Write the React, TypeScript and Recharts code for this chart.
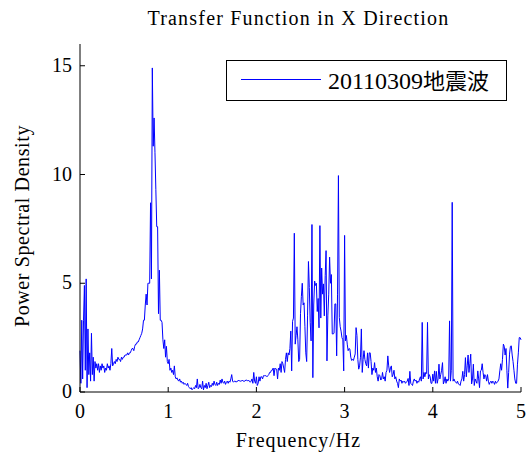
import React from 'react';
import { LineChart, Line, XAxis, YAxis } from 'recharts';

// power spectral density sampled every 0.01 Hz, one array per 1 Hz band
const psd0to1 = [
  1.9, 0.4, 3.3, 0.6, 3.3, 4.9, 1.0, 5.2, 0.2, 2.9,
  0.8, 1.8, 0.5, 2.7, 0.8, 1.6, 0.5, 1.4, 1.1, 1.3,
  1.0, 1.3, 0.9, 1.2, 1.0, 1.3, 1.1, 1.2, 0.9, 1.1,
  1.0, 1.3, 1.1, 1.2, 1.0, 1.3, 2.0, 1.2, 1.3, 1.4,
  1.3, 1.5, 1.4, 1.6, 1.5, 1.5, 1.4, 1.6, 1.5, 1.6,
  1.6, 1.7, 1.7, 1.7, 1.8, 1.7, 1.8, 1.8, 1.9, 2.0,
  2.0, 1.9, 2.1, 2.2, 2.2, 2.3, 2.3, 2.4, 2.5, 2.6,
  2.7, 2.9, 3.3, 3.3, 4.0, 4.5, 4.0, 5.0, 5.0, 5.0,
  8.7, 5.2, 14.9, 11.3, 12.6, 11.0, 9.3, 7.6, 7.6, 3.6,
  5.6, 3.3, 3.3, 3.2, 2.4, 2.0, 2.4, 1.6, 2.1, 1.4,
];
const psd1to2 = [
  1.3, 1.5, 1.0, 1.1, 0.9, 1.0, 0.8, 1.2, 0.7, 0.6,
  0.65, 0.55, 0.5, 0.6, 0.45, 0.5, 0.4, 0.45, 0.35, 0.4,
  0.35, 0.3, 0.4, 0.25, 0.2, 0.15, 0.2, 0.1, 0.15, 0.2,
  0.15, 0.3, 0.2, 0.6, 0.15, 0.2, 0.35, 0.2, 0.15, 0.5,
  0.1, 0.3, 0.2, 0.4, 0.15, 0.3, 0.45, 0.2, 0.3, 0.25,
  0.4, 0.3, 0.5, 0.35, 0.3, 0.45, 0.3, 0.4, 0.35, 0.55,
  0.4, 0.6, 0.45, 0.4, 0.5, 0.35, 0.45, 0.5, 0.4, 0.5,
  0.45, 0.6, 0.8, 0.5, 0.45, 0.5, 0.5, 0.45, 0.5, 0.5,
  0.55, 0.5, 0.5, 0.5, 0.55, 0.5, 0.5, 0.5, 0.55, 0.55,
  0.5, 0.55, 0.5, 0.45, 0.5, 0.6, 0.4, 0.9, 0.5, 0.4,
];
const psd2to3 = [
  0.7, 0.3, 0.4, 0.7, 0.5, 0.7, 0.7, 0.6, 0.75, 0.75,
  0.75, 0.75, 0.7, 0.75, 0.8, 0.9, 0.9, 1.0, 1.0, 1.1,
  0.75, 1.1, 1.05, 1.05, 0.6, 1.1, 1.0, 1.3, 0.9, 1.4,
  1.3, 1.1, 0.9, 1.5, 1.8, 1.4, 1.8, 1.7, 2.0, 2.8,
  0.97, 3.25, 3.4, 7.3, 2.2, 2.6, 3.0, 2.4, 1.4, 1.5,
  3.6, 4.4, 5.0, 4.0, 4.1, 3.0, 1.8, 1.4, 3.5, 6.0,
  4.8, 3.2, 2.35, 7.7, 0.66, 4.0, 5.1, 4.9, 5.0, 3.7,
  4.3, 2.95, 7.65, 3.4, 5.7, 4.5, 4.97, 3.5, 5.35, 6.5,
  1.43, 3.5, 4.5, 6.2, 5.0, 5.4, 2.67, 2.67, 2.7, 4.05,
  4.05, 1.66, 4.5, 9.95, 3.43, 3.0, 2.8, 2.5, 2.4, 0.97,
];
const psd3to4 = [
  7.2, 2.35, 2.6, 2.2, 1.9, 2.0, 1.97, 1.6, 1.45, 1.5,
  1.45, 1.6, 1.75, 2.96, 2.6, 1.5, 1.05, 1.2, 1.6, 2.9,
  0.9, 1.5, 1.9, 1.5, 1.3, 1.2, 1.8, 1.1, 1.8, 1.8,
  1.4, 0.8, 1.1, 1.0, 1.35, 0.9, 1.1, 0.7, 0.5, 0.8,
  0.75, 0.55, 0.6, 0.9, 0.6, 0.7, 0.5, 0.9, 1.0, 1.66,
  1.2, 0.9, 1.1, 1.2, 0.7, 0.8, 1.0, 0.6, 0.7, 0.5,
  0.4, 0.2, 0.6, 0.5, 0.55, 0.4, 0.5, 0.45, 0.5, 0.4,
  0.45, 0.5, 0.62, 0.3, 0.95, 0.4, 0.35, 0.3, 0.5, 0.6,
  0.5, 0.55, 0.4, 0.5, 0.45, 0.6, 0.7, 0.5, 3.2, 0.6,
  0.9, 0.7, 0.9, 0.85, 3.2, 0.6, 0.8, 0.7, 0.4, 0.4,
];
const psd4to5 = [
  0.82, 0.5, 0.97, 0.4, 0.95, 0.4, 0.6, 1.28, 0.6, 0.8,
  1.0, 1.35, 0.37, 0.5, 0.7, 0.4, 0.6, 0.5, 0.6, 3.27,
  0.5, 1.0, 8.72, 0.5, 0.6, 0.5, 0.45, 0.4, 0.5, 0.37,
  0.35, 0.3, 0.5, 0.6, 0.95, 0.5, 0.8, 1.58, 0.7, 1.2,
  1.7, 0.9, 1.3, 1.74, 0.37, 0.6, 1.28, 0.3, 0.6, 0.5,
  0.4, 0.97, 0.6, 0.2, 0.97, 1.0, 1.3, 0.9, 0.6, 0.8,
  0.75, 0.5, 0.8, 0.5, 0.35, 0.45, 0.5, 0.4, 0.5, 0.45,
  0.35, 0.5, 0.4, 0.45, 0.5, 0.6, 0.97, 1.3, 1.0, 1.5,
  2.2, 2.1, 1.7, 2.0, 1.0, 0.18, 0.9, 1.74, 2.1, 2.12,
  1.7, 1.4, 1.0, 0.6, 0.4, 0.4, 1.28, 1.8, 2.5, 2.5,
  2.4,
];

const FREQ_STEP = 0.01;
const xTicks = [0, 1, 2, 3, 4, 5];
const yTicks = [0, 5, 10, 15];
const seriesDate = '20110309';
const seriesKind = '地震波';

const psd = [...psd0to1, ...psd1to2, ...psd2to3, ...psd3to4, ...psd4to5];
const data = psd.map((v, i) => ({ f: +(i * FREQ_STEP).toFixed(2), v }));

const FONT = '"Liberation Serif", "Times New Roman", serif';
const CJK_FONT = '"Noto Sans CJK SC", sans-serif';
const TICK_LEN = 5;

// matlab style: ticks point into the plot box
const BottomTick = ({ x, y, payload }: any) => (
  <g>
    <line x1={x} x2={x} y1={y} y2={y - TICK_LEN} stroke="#000" />
    <text x={x} y={y + 26} textAnchor="middle" fontSize={20} fontFamily={FONT} fill="#000">
      {payload.value}
    </text>
  </g>
);
const TopTick = ({ x, y }: any) => <line x1={x} x2={x} y1={y} y2={y + TICK_LEN} stroke="#000" />;
const LeftTick = ({ x, y, payload }: any) => (
  <g>
    <line x1={x} x2={x + TICK_LEN} y1={y} y2={y} stroke="#000" />
    <text x={x - 8} y={y + 6} textAnchor="end" fontSize={20} fontFamily={FONT} fill="#000">
      {payload.value}
    </text>
  </g>
);
const RightTick = ({ x, y }: any) => <line x1={x} x2={x - TICK_LEN} y1={y} y2={y} stroke="#000" />;

const LegendBox = () => (
  <div
    style={{
      position: 'absolute',
      left: 226,
      top: 60,
      width: 279,
      height: 39,
      border: '1px solid #000',
      background: '#fff',
    }}
  >
    <div style={{ position: 'absolute', left: 14, top: 18, width: 80, height: 1, background: '#0000ff' }} />
    <div
      style={{
        position: 'absolute',
        left: 101,
        top: 3,
        fontSize: 24,
        lineHeight: '30px',
        color: '#000',
        whiteSpace: 'nowrap',
      }}
    >
      <span style={{ fontFamily: FONT }}>{seriesDate}</span>
      <span style={{ fontFamily: CJK_FONT, fontSize: 22 }}>{seriesKind}</span>
    </div>
  </div>
);

export default function App() {
  return (
    <div style={{ position: 'absolute', left: 0, top: 0, width: 526, height: 457, background: '#fff' }}>
      <div
        style={{
          position: 'absolute',
          left: 0,
          width: 597,
          top: 4,
          textAlign: 'center',
          fontFamily: FONT,
          fontSize: 20,
          letterSpacing: 1.2,
          lineHeight: '28px',
        }}
      >
        Transfer Function in X Direction
      </div>
      <LineChart width={526} height={457} data={data} margin={{ top: 44, right: 5, bottom: 35, left: 20 }}>
        <XAxis
          dataKey="f"
          type="number"
          domain={[0, 5]}
          ticks={xTicks}
          tickLine={false}
          tickSize={0}
          tickMargin={0}
          height={30}
          axisLine={{ stroke: '#000' }}
          tick={<BottomTick />}
          interval={0}
        />
        <XAxis
          xAxisId="top"
          orientation="top"
          dataKey="f"
          type="number"
          domain={[0, 5]}
          ticks={xTicks}
          tickLine={false}
          tickSize={0}
          tickMargin={0}
          height={0}
          axisLine={{ stroke: '#000' }}
          tick={<TopTick />}
          interval={0}
        />
        <YAxis
          type="number"
          domain={[0, 16]}
          ticks={yTicks}
          tickLine={false}
          tickSize={0}
          tickMargin={0}
          width={60}
          axisLine={{ stroke: '#000' }}
          tick={<LeftTick />}
          interval={0}
        />
        <YAxis
          yAxisId="right"
          orientation="right"
          type="number"
          domain={[0, 16]}
          ticks={yTicks}
          tickLine={false}
          tickSize={0}
          tickMargin={0}
          width={0}
          axisLine={{ stroke: '#000' }}
          tick={<RightTick />}
          interval={0}
        />
        <Line
          type="linear"
          dataKey="v"
          name={seriesDate + seriesKind}
          stroke="#0000ff"
          strokeWidth={1}
          dot={false}
          activeDot={false}
          isAnimationActive={false}
        />
      </LineChart>
      <LegendBox />
      <div
        style={{
          position: 'absolute',
          left: 0,
          width: 597,
          top: 426,
          textAlign: 'center',
          fontFamily: FONT,
          fontSize: 20,
          letterSpacing: 1,
          lineHeight: '28px',
        }}
      >
        Frequency/Hz
      </div>
      <div
        style={{
          position: 'absolute',
          left: 22,
          top: 226,
          transform: 'translate(-50%, -50%) rotate(-90deg)',
          whiteSpace: 'nowrap',
          fontFamily: FONT,
          fontSize: 20,
          letterSpacing: 0.6,
          lineHeight: '24px',
        }}
      >
        Power Spectral Density
      </div>
    </div>
  );
}
